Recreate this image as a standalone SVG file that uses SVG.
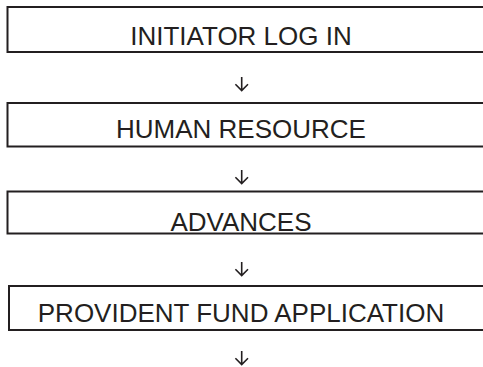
<svg xmlns="http://www.w3.org/2000/svg" width="483" height="367" viewBox="0 0 483 367">
<style>
.box{fill:#fff;stroke:#231f20;stroke-width:2}
.lbl{font-family:"Liberation Sans",Arial,sans-serif;font-size:26px;fill:#231f20;text-anchor:middle}
.arr{fill:none;stroke:#231f20;stroke-width:1.6;stroke-linejoin:miter}
</style>
<defs>
<path id="dn" class="arr" d="M0,0 V13.5 M-6.3,7.2 L0,13.5 L6.3,7.2"/>
</defs>
<rect width="483" height="367" fill="#fff"/>
<g id="n1"><rect class="box" x="7.5" y="7" width="490" height="45"/><text class="lbl" x="241" y="45">INITIATOR LOG IN</text></g>
<g id="n2"><rect class="box" x="7.5" y="103" width="490" height="43.5"/><text class="lbl" x="241" y="138.3">HUMAN RESOURCE</text></g>
<g id="n3"><rect class="box" x="7.5" y="191.5" width="490" height="42"/><text class="lbl" x="241" y="231">ADVANCES</text></g>
<g id="n4"><rect class="box" x="9" y="286" width="490" height="44"/><text class="lbl" x="241" y="321.7">PROVIDENT FUND APPLICATION</text></g>
<g id="connectors">
<use href="#dn" x="241.7" y="77"/>
<use href="#dn" x="241.7" y="170"/>
<use href="#dn" x="241.7" y="262"/>
<use href="#dn" x="241.7" y="351"/>
</g>
</svg>
